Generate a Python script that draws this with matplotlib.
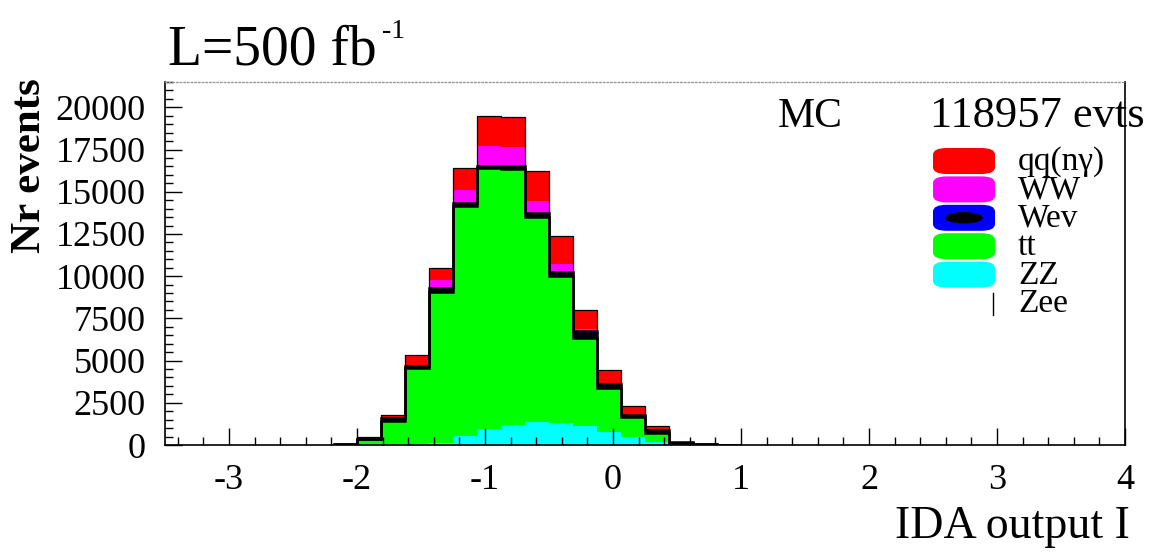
import matplotlib
matplotlib.use("Agg")
import matplotlib.pyplot as plt
import numpy as np
from matplotlib.patches import FancyBboxPatch, Ellipse
from matplotlib.ticker import MultipleLocator

plt.rcParams["font.family"] = ["Liberation Serif", "DejaVu Serif"]
plt.rcParams["axes.unicode_minus"] = False

# bin edges of the IDA output histogram (width 0.1875)
bin_edges = [-2.1875, -2.0, -1.8125, -1.625, -1.4375, -1.25, -1.0625, -0.875,
             -0.6875, -0.5, -0.3125, -0.125, 0.0625, 0.25, 0.4375, 0.625,
             0.8125, 1.0]

# stacked contributions per bin, bottom to top
zz_counts = [0, 0, 20, 60, 100, 520, 930, 1190, 1340, 1320, 1130, 790, 500, 200, 50, 10, 0]
tt_counts = [30, 330, 1420, 4490, 8950, 13630, 15470, 15160, 12160, 8680, 5200, 2560, 1180, 500, 50, 20, 10]
wev_counts = [0, 40, 130, 150, 250, 200, 150, 150, 250, 250, 420, 250, 100, 200, 50, 0, 0]
ww_counts = [0, 0, 10, 60, 450, 780, 1150, 1150, 700, 450, 100, 50, 20, 0, 0, 0, 0]
qq_counts = [10, 130, 200, 580, 740, 1290, 1800, 1800, 1750, 1650, 1150, 800, 500, 250, 50, 20, 0]

# the thin Wev band renders as near-black in the stack
layer_colors = ["#00ffff", "#00ff00", "#000014", "#ff00ff", "#ff0000"]

legend_names = ["qq(nγ)", "WW", "Wev", "tt", "ZZ", "Zee"]
legend_colors = ["#ff0000", "#ff00ff", "#0000ff", "#00ff00", "#00ffff", "white"]

W, H = 1154, 556
fig = plt.figure(figsize=(W / 100, H / 100), dpi=100)
ax = fig.add_axes([165 / W, 1 - 445 / H, (1125 - 165) / W, (445 - 82) / H])

edges = np.asarray(bin_edges)
layers = np.array([zz_counts, tt_counts, wev_counts, ww_counts, qq_counts], dtype=float)
tops = np.cumsum(layers, axis=0)
bottoms = np.vstack([np.zeros(layers.shape[1]), tops[:-1]])

for top, bottom, color in zip(tops, bottoms, layer_colors):
    ax.stairs(top, edges, baseline=bottom, fill=True, color=color, lw=0)

# Wev outline
ax.stairs(tops[1], edges, baseline=None, color="black", lw=1.8)
ax.stairs(tops[2], edges, baseline=None, color="black", lw=1.8)
# outline of the full stack
ax.stairs(tops[-1], edges, baseline=0, color="black", lw=0.9)

ax.set_xlim(-3.5, 4.0)
ax.set_ylim(0, 21500)

ax.xaxis.set_major_locator(MultipleLocator(1))
ax.xaxis.set_minor_locator(MultipleLocator(0.2))
ax.yaxis.set_major_locator(MultipleLocator(2500))
ax.yaxis.set_minor_locator(MultipleLocator(500))
ax.tick_params(axis="both", which="both", direction="in", labelsize=26, width=1)
ax.tick_params(axis="both", which="major", length=12)
ax.tick_params(axis="both", which="minor", length=6)
ax.tick_params(axis="x", pad=14)
ax.tick_params(axis="y", pad=14)

for side in ["left", "bottom", "right"]:
    ax.spines[side].set_linewidth(1.2)
    ax.spines[side].set_color("black")
ax.spines["top"].set_linestyle(":")
ax.spines["top"].set_color("#999999")
ax.spines["top"].set_linewidth(1.0)

# texts
fig.text(168 / W, 1 - 65 / H, "L=500 fb", fontsize=40, va="baseline", ha="left")
fig.text(382 / W, 1 - 38 / H, "-1", fontsize=20, va="baseline", ha="left")
fig.text(30 / W, 1 - 78 / H, "Nr events", fontsize=31, fontweight="bold",
         rotation=90, va="top", ha="center")
fig.text(1130 / W, 1 - 538 / H, "IDA output I", fontsize=33, va="baseline", ha="right")
fig.text(778 / W, 1 - 127 / H, "MC", fontsize=30, va="baseline", ha="left")
fig.text(930 / W, 1 - 127 / H, "118957 evts", fontsize=32, va="baseline", ha="left")

# legend drawn as rounded colour swatches
row0, row_step = 161, 28.4
for i, (name, color) in enumerate(zip(legend_names, legend_colors)):
    yc = row0 + i * row_step
    if color != "white":
        box = FancyBboxPatch((933 / W, 1 - (yc + 13) / H), 62 / W, 26 / H,
                             boxstyle="round,pad=0,rounding_size=0.012",
                             transform=fig.transFigure, facecolor=color,
                             edgecolor="none")
        fig.patches.append(box)
        if name == "Wev":
            fig.patches.append(Ellipse((964 / W, 1 - yc / H), 36 / W, 10 / H,
                                       transform=fig.transFigure, color="black"))
    else:
        fig.lines.append(plt.Line2D([993 / W, 993 / W], [1 - (yc - 10) / H, 1 - (yc + 12) / H],
                                    transform=fig.transFigure, color="black", lw=1))
    fig.text(1018 / W, 1 - (yc + 9) / H, name, fontsize=24, va="baseline", ha="left")

fig.savefig("out.png", dpi=100)
